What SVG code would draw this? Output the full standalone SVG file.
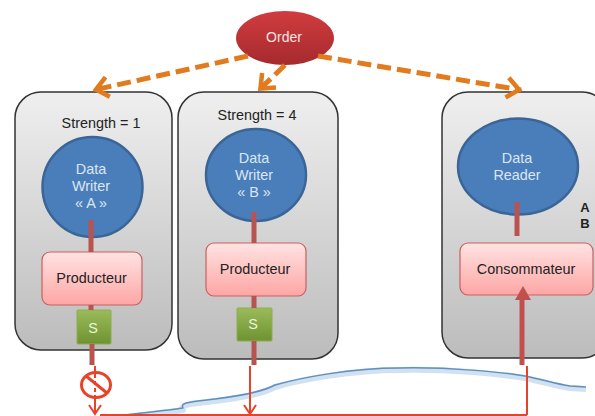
<svg xmlns="http://www.w3.org/2000/svg" width="595" height="416" viewBox="0 0 595 416">
<defs>
<linearGradient id="gBox" x1="0" y1="0" x2="0" y2="1"><stop offset="0" stop-color="#efefef"/><stop offset="1" stop-color="#bcbcbc"/></linearGradient>
<linearGradient id="gPink" x1="0" y1="0" x2="0" y2="1"><stop offset="0" stop-color="#ffe3e2"/><stop offset="1" stop-color="#fda6a4"/></linearGradient>
<linearGradient id="gGreen" x1="0" y1="0" x2="0" y2="1"><stop offset="0" stop-color="#9bbb59"/><stop offset="1" stop-color="#6f9232"/></linearGradient>
<linearGradient id="gRed" x1="0" y1="0" x2="0" y2="1"><stop offset="0" stop-color="#d13c3e"/><stop offset="1" stop-color="#a52a2e"/></linearGradient>
<marker id="org" markerUnits="userSpaceOnUse" markerWidth="30" markerHeight="30" refX="22" refY="15" orient="auto"><path d="M8 5L20 15L8 25" fill="none" stroke="#e27a1e" stroke-width="4.5"/></marker>
<style>
text{font-family:"Liberation Sans",Arial,sans-serif;font-size:14.4px;text-anchor:middle;fill:#222}
.box{fill:url(#gBox);stroke:#333;stroke-width:1.5}
.circ{fill:#4a7ebb;stroke:#3a6596;stroke-width:2.5}
text.w{fill:#dce6f2}
text.s{fill:#eef3dc}
.pink{fill:url(#gPink);stroke:#c9605f;stroke-width:1.2}
.green{fill:url(#gGreen);stroke:#8cae4e;stroke-width:1}
.stem{stroke:#b85450;stroke-width:5;fill:none}
.red{stroke:#e8432a;stroke-width:2;fill:none}
.dash{stroke:#e27a1e;stroke-width:5;stroke-dasharray:14 6;fill:none}
.cl{fill:none;stroke-linejoin:round}
</style>
</defs>
<g id="cloud"><path class="cl" d="M117 416C150 412 170 410 183 408C180 402 190 402 215 399C240 396 262 392 275 385C300 378 350 368 400 368C450 367 500 372 525 376C545 380 555 384 570 386L586 387" stroke="#c5d9ec" stroke-width="6" opacity=".8" transform="translate(0 2)"/><path class="cl" d="M117 416C150 412 170 410 183 408C180 402 190 402 215 399C240 396 262 392 275 385C300 378 350 368 400 368C450 367 500 372 525 376C545 380 555 384 570 386L586 387" stroke="#5f8fc0" stroke-width="1.5"/></g>
<g id="writer-a"><rect class="box" x="15" y="92" width="157" height="258" rx="26"/><text x="101" y="128">Strength = 1</text><circle class="circ" cx="92.500" cy="187" r="50"/><text class="w" x="91" y="174">Data</text><text class="w" x="91" y="191">Writer</text><text class="w" x="91" y="208">« A »</text><rect class="pink" x="42" y="252" width="100" height="53" rx="8"/><text x="91.500" y="283">Producteur</text><rect class="green" x="77" y="310" width="34" height="34" rx="1"/><text class="s" x="93" y="333">S</text></g>
<g id="writer-b"><rect class="box" x="178" y="92" width="160" height="267" rx="26"/><text x="257" y="120">Strength = 4</text><ellipse class="circ" cx="256" cy="175" rx="50" ry="46"/><text class="w" x="254" y="163">Data</text><text class="w" x="254" y="180">Writer</text><text class="w" x="254" y="197">« B »</text><rect class="pink" x="206" y="243" width="100" height="53" rx="8"/><text x="255" y="274">Producteur</text><rect class="green" x="237" y="308" width="35" height="33" rx="1"/><text class="s" x="253" y="329">S</text></g>
<g id="reader"><rect class="box" x="442" y="92" width="166" height="266" rx="26"/><ellipse class="circ" cx="518" cy="166.500" rx="60" ry="48"/><text class="w" x="517" y="163">Data</text><text class="w" x="517" y="180">Reader</text><rect class="pink" x="460" y="243" width="133" height="52" rx="8"/><text x="526" y="274">Consommateur</text><text x="585" y="212" style="font-weight:bold;font-size:13px">A</text><text x="585" y="228" style="font-weight:bold;font-size:13px">B</text></g>
<g id="order"><ellipse cx="285" cy="38" rx="49" ry="27" fill="url(#gRed)"/><text x="284" y="42" style="font-size:14px;fill:#f2e4e4">Order</text></g>
<g id="connectors">
<path class="dash" d="M248 56L94 90" marker-end="url(#org)"/>
<path class="dash" d="M285 65L259 90" marker-end="url(#org)"/>
<path class="dash" d="M318 56L521 90" marker-end="url(#org)"/>
<path class="stem" d="M91 220V252M91 305V310M92 344V365M254 212V243M254 296V308M254 341V365M517 202V236"/>
<path d="M522 365V298" stroke="#c0504d" stroke-width="5" fill="none"/><path d="M523 286L515 300H531Z" fill="#c0504d"/>
<path class="red" d="M95 366V372M95 398V414M250 366V414M527 366V415M100 415H527"/>
<path class="red" d="M89 405L95 414L101 405M244 405L250 414L256 405"/>
<path d="M95 374V396" stroke="#e8432a" stroke-width="2" stroke-dasharray="4 3"/>
<ellipse cx="96" cy="385" rx="14.500" ry="12.500" fill="none" stroke="#e8432a" stroke-width="3"/><path d="M86 376L107 393" stroke="#e8432a" stroke-width="3"/>
</g>
</svg>
